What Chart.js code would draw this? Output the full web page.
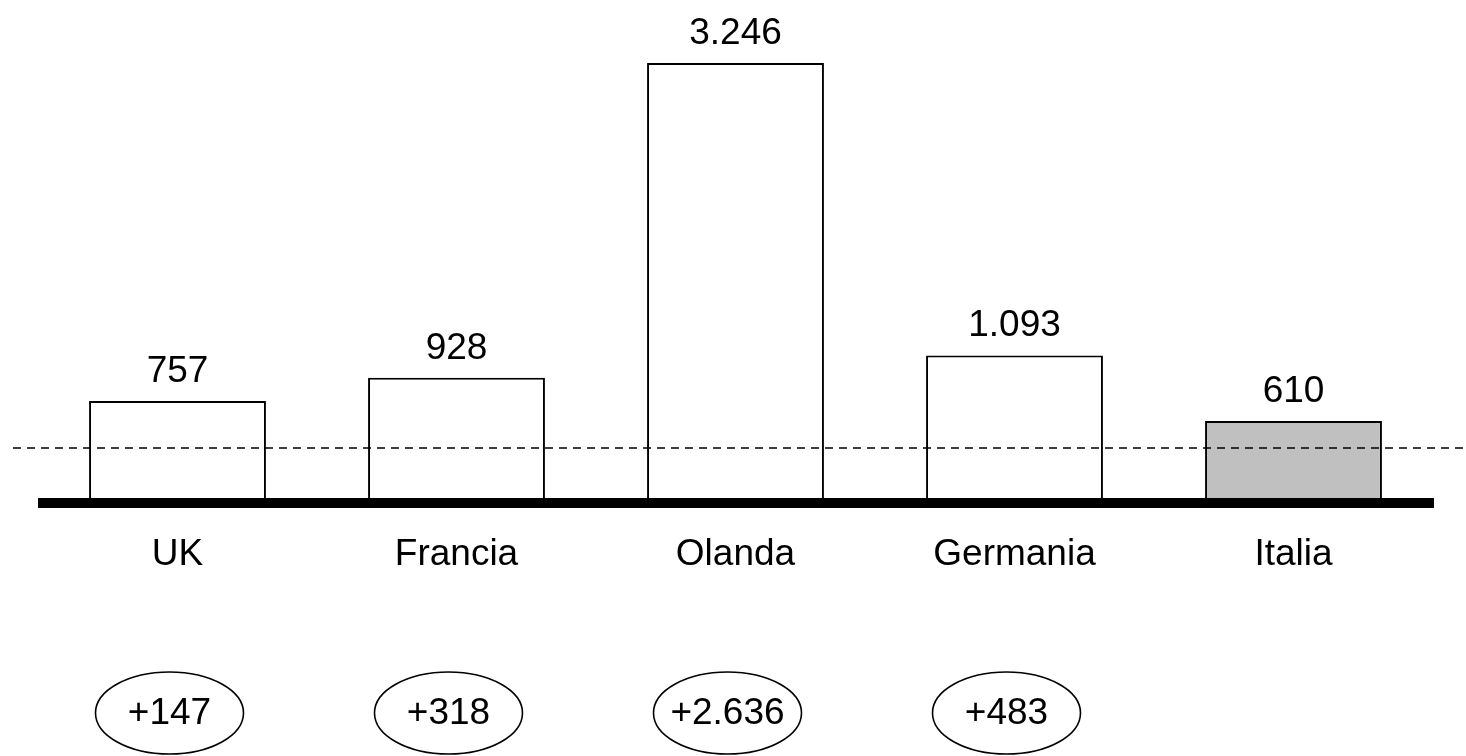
<!DOCTYPE html>
<html lang="it">
<head>
<meta charset="UTF-8">
<script src="https://cdn.jsdelivr.net/npm/chart.js@4.4.0/dist/chart.umd.min.js"></script>
<title>Confronto paesi</title>
<style>
  body { margin: 0; background: #fff; }
  #wrap { width: 1466px; height: 756px; }
</style>
</head>
<body>
<div id="wrap"><canvas id="grafico" width="1466" height="756"></canvas></div>
<script>
// dati
const paesi = ['UK', 'Francia', 'Olanda', 'Germania', 'Italia'];
const valori = [757, 928, 3246, 1093, 610];
const differenze = [147, 318, 2636, 483, null];
const coloriBarre = ['#ffffff', '#ffffff', '#ffffff', '#ffffff', '#c0c0c0'];
const livelloRiferimento = 413;

const FONT = 'Liberation Sans, Arial, sans-serif';

function formatta(v) {
  return String(v).replace(/\B(?=(\d{3})+(?!\d))/g, '.');
}

const decorazioni = {
  id: 'decorazioni',
  afterDatasetsDraw(chart) {
    const ctx = chart.ctx;
    const area = chart.chartArea;
    const x = chart.scales.x;
    const y = chart.scales.y;
    const barre = chart.getDatasetMeta(0).data;

    ctx.save();
    // linea tratteggiata
    const yRif = Math.round(y.getPixelForValue(livelloRiferimento));
    ctx.strokeStyle = '#000';
    ctx.lineWidth = 1.6;
    ctx.setLineDash([8, 6]);
    ctx.beginPath();
    ctx.moveTo(13, yRif);
    ctx.lineTo(chart.width, yRif);
    ctx.stroke();
    ctx.setLineDash([]);

    // asse spesso
    ctx.fillStyle = '#000';
    ctx.fillRect(area.left, area.bottom, area.right - area.left + 1, 10);

    // etichette valori
    ctx.font = '37px ' + FONT;
    ctx.textAlign = 'center';
    ctx.textBaseline = 'alphabetic';
    barre.forEach((b, i) => {
      ctx.fillText(formatta(valori[i]), b.x, b.y - 19);
    });

    // ellissi con differenze
    ctx.lineWidth = 1.6;
    ctx.textBaseline = 'middle';
    differenze.forEach((d, i) => {
      if (d === null) return;
      const cx = x.getPixelForValue(i) - 8;
      const cy = 713;
      ctx.beginPath();
      ctx.ellipse(cx, cy, 74, 41, 0, 0, Math.PI * 2);
      ctx.stroke();
      ctx.fillText('+' + formatta(d), cx, cy + 1);
    });
    ctx.restore();
  }
};

new Chart(document.getElementById('grafico'), {
  type: 'bar',
  data: {
    labels: paesi,
    datasets: [{
      data: valori,
      backgroundColor: coloriBarre,
      borderColor: '#000',
      borderWidth: 2,
      borderSkipped: false,
      categoryPercentage: 1,
      barPercentage: 0.634
    }]
  },
  options: {
    responsive: false,
    animation: false,
    layout: { padding: { left: 38, right: 33, top: 0, bottom: 0 } },
    plugins: { legend: { display: false }, tooltip: { enabled: false } },
    scales: {
      x: {
        grid: { display: false, drawTicks: false },
        border: { display: false },
        ticks: {
          color: '#000',
          font: { family: FONT, size: 37 },
          padding: 35,
          maxRotation: 0,
          autoSkip: false
        },
        afterFit(scale) { scale.height = 258; }
      },
      y: {
        display: false,
        min: 43,
        max: 3710
      }
    }
  },
  plugins: [decorazioni]
});
</script>
</body>
</html>
